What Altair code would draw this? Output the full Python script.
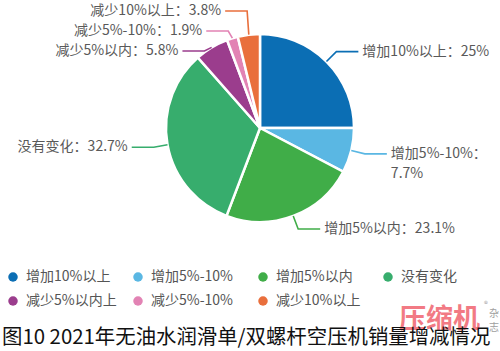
import math
import pandas as pd
import altair as alt

# ---- data ----
categories = ["增加10%以上", "增加5%-10%", "增加5%以内", "没有变化",
              "减少5%以内上", "减少5%-10%", "减少10%以上"]
label_names = ["增加10%以上", "增加5%-10%", "增加5%以内", "没有变化",
               "减少5%以内", "减少5%-10%", "减少10%以上"]
values = [25, 7.7, 23.1, 32.7, 5.8, 1.9, 3.8]
value_text = ["25%", "7.7%", "23.1%", "32.7%", "5.8%", "1.9%", "3.8%"]
colors = ["#0b6eb4", "#5ab7e3", "#40ad48", "#37ad6d", "#9b3d8d", "#e283b4", "#e96f3c"]
caption = "图10 2021年无油水润滑单/双螺杆空压机销量增减情况"

# ---- layout / style ----
W, H = 500, 351
CX, CY, R = 260, 128, 94
R_ELBOW = 108
HSEG = 22
FONT = "Noto Sans CJK SC"
LFS = 14
TOP = 11


def text_width(s, fs):
    w = 0
    for ch in s:
        if ord(ch) > 0x2E80:
            w += fs
        elif ch == "%":
            w += 0.85 * fs
        elif ch in ".-":
            w += 0.35 * fs
        else:
            w += 0.57 * fs
    return w


# label geometry computed from the slice angles
total = sum(values)
cum = 0
info = []
for i, v in enumerate(values):
    a = (cum + v / 2) / total * 2 * math.pi
    cum += v
    sx, sy = CX + R * math.sin(a), CY - R * math.cos(a)
    ex, ey = CX + R_ELBOW * math.sin(a), CY - R_ELBOW * math.cos(a)
    side = "right" if math.sin(a) >= 0 else "left"
    info.append(dict(i=i, sx=sx, sy=sy, ex=ex, ey=ey, side=side))

# spread overlapping labels vertically on each side
GAP = 20
for side in ("left", "right"):
    grp = sorted([d for d in info if d["side"] == side], key=lambda d: d["ey"])
    for _ in range(300):
        for k in range(1, len(grp)):
            diff = grp[k]["ey"] - grp[k - 1]["ey"]
            if diff < GAP:
                dd = (GAP - diff) / 2
                grp[k - 1]["ey"] -= dd
                grp[k]["ey"] += dd
    prev = None
    for d in grp:
        lo = TOP if prev is None else prev + GAP
        d["ey"] = max(d["ey"], lo)
        prev = d["ey"]

line_rows, text_rows = [], []
for d in info:
    i = d["i"]
    sgn = 1 if d["side"] == "right" else -1
    endx = d["ex"] + sgn * HSEG
    line_rows += [
        dict(cat=categories[i], lc=colors[i], seg=0, x=d["sx"], y=d["sy"]),
        dict(cat=categories[i], lc=colors[i], seg=1, x=d["ex"], y=d["ey"]),
        dict(cat=categories[i], lc=colors[i], seg=2, x=endx, y=d["ey"]),
    ]
    tx = endx + sgn * 4
    full = label_names[i] + "：" + value_text[i]
    if sgn > 0 and tx + text_width(full, LFS) > W - 4:
        full = label_names[i] + "：\n" + value_text[i]
    text_rows.append(dict(cat=categories[i], side=d["side"], x=tx, y=d["ey"], label=full))

df = pd.DataFrame({"cat": categories, "value": values, "idx": list(range(len(values)))})
lines_df = pd.DataFrame(line_rows)
text_df = pd.DataFrame(text_rows)

xs = alt.Scale(domain=[0, W], range=[0, W], nice=False, zero=False)
ys = alt.Scale(domain=[0, H], range=[0, H], nice=False, zero=False)

arc = alt.Chart(df).mark_arc(stroke="white", strokeWidth=2.5, outerRadius=R).encode(
    theta=alt.Theta("value:Q", stack=True),
    color=alt.Color(
        "cat:N",
        scale=alt.Scale(domain=categories, range=colors),
        sort=categories,
        legend=alt.Legend(
            title=None, orient="none", legendX=6, legendY=270,
            direction="horizontal", columns=4, symbolType="circle",
            symbolSize=90, symbolStrokeWidth=0, labelFont=FONT,
            labelFontSize=14, labelColor="#555555", gridAlign="all",
            columnPadding=14, rowPadding=10, labelOffset=6, labelLimit=300,
        ),
    ),
    order=alt.Order("idx:Q"),
    x=alt.value(CX),
    y=alt.value(CY),
)

leaders = alt.Chart(lines_df).mark_line(strokeWidth=1.6).encode(
    x=alt.X("x:Q", scale=xs, axis=None),
    y=alt.Y("y:Q", scale=ys, axis=None),
    color=alt.Color("lc:N", scale=None),
    detail="cat:N",
    order="seg:Q",
)

lab_right = alt.Chart(text_df).transform_filter(alt.datum.side == "right").mark_text(
    align="left", baseline="middle", font=FONT, fontSize=LFS, color="#595959",
    lineBreak="\n", lineHeight=20,
).encode(x=alt.X("x:Q", scale=xs, axis=None), y=alt.Y("y:Q", scale=ys, axis=None), text="label:N")

lab_left = alt.Chart(text_df).transform_filter(alt.datum.side == "left").mark_text(
    align="right", baseline="middle", font=FONT, fontSize=LFS, color="#595959",
    lineBreak="\n", lineHeight=20,
).encode(x=alt.X("x:Q", scale=xs, axis=None), y=alt.Y("y:Q", scale=ys, axis=None), text="label:N")

wm = alt.Chart(pd.DataFrame({"t": ["压缩机"]})).mark_text(
    align="left", baseline="middle", font=FONT, fontSize=27, fontWeight="bold",
    color="#ef5a66", opacity=0.8,
).encode(x=alt.value(399), y=alt.value(320), text="t:N")

wm2 = alt.Chart(pd.DataFrame({"t": ["杂", "志", "®"], "px": [494, 494, 486], "py": [314, 328, 305],
                              "fs": [10, 10, 8]})).mark_text(
    align="center", baseline="middle", font=FONT, color="#a0a0a0",
).encode(x=alt.X("px:Q", scale=xs, axis=None), y=alt.Y("py:Q", scale=ys, axis=None),
         text="t:N", size=alt.Size("fs:Q", scale=None, legend=None))

cap = alt.Chart(pd.DataFrame({"t": [caption]})).mark_text(
    align="left", baseline="middle", font=FONT, fontSize=20.4, color="#111111",
).encode(x=alt.value(2), y=alt.value(338), text="t:N")

chart = alt.layer(wm, wm2, arc, leaders, lab_right, lab_left, cap).properties(
    width=W, height=H, autosize=alt.AutoSizeParams(type="none"), padding=0,
    background="white",
).configure_view(stroke=None)

chart.save("out.html", embed_options={"renderer": "svg", "actions": False})
